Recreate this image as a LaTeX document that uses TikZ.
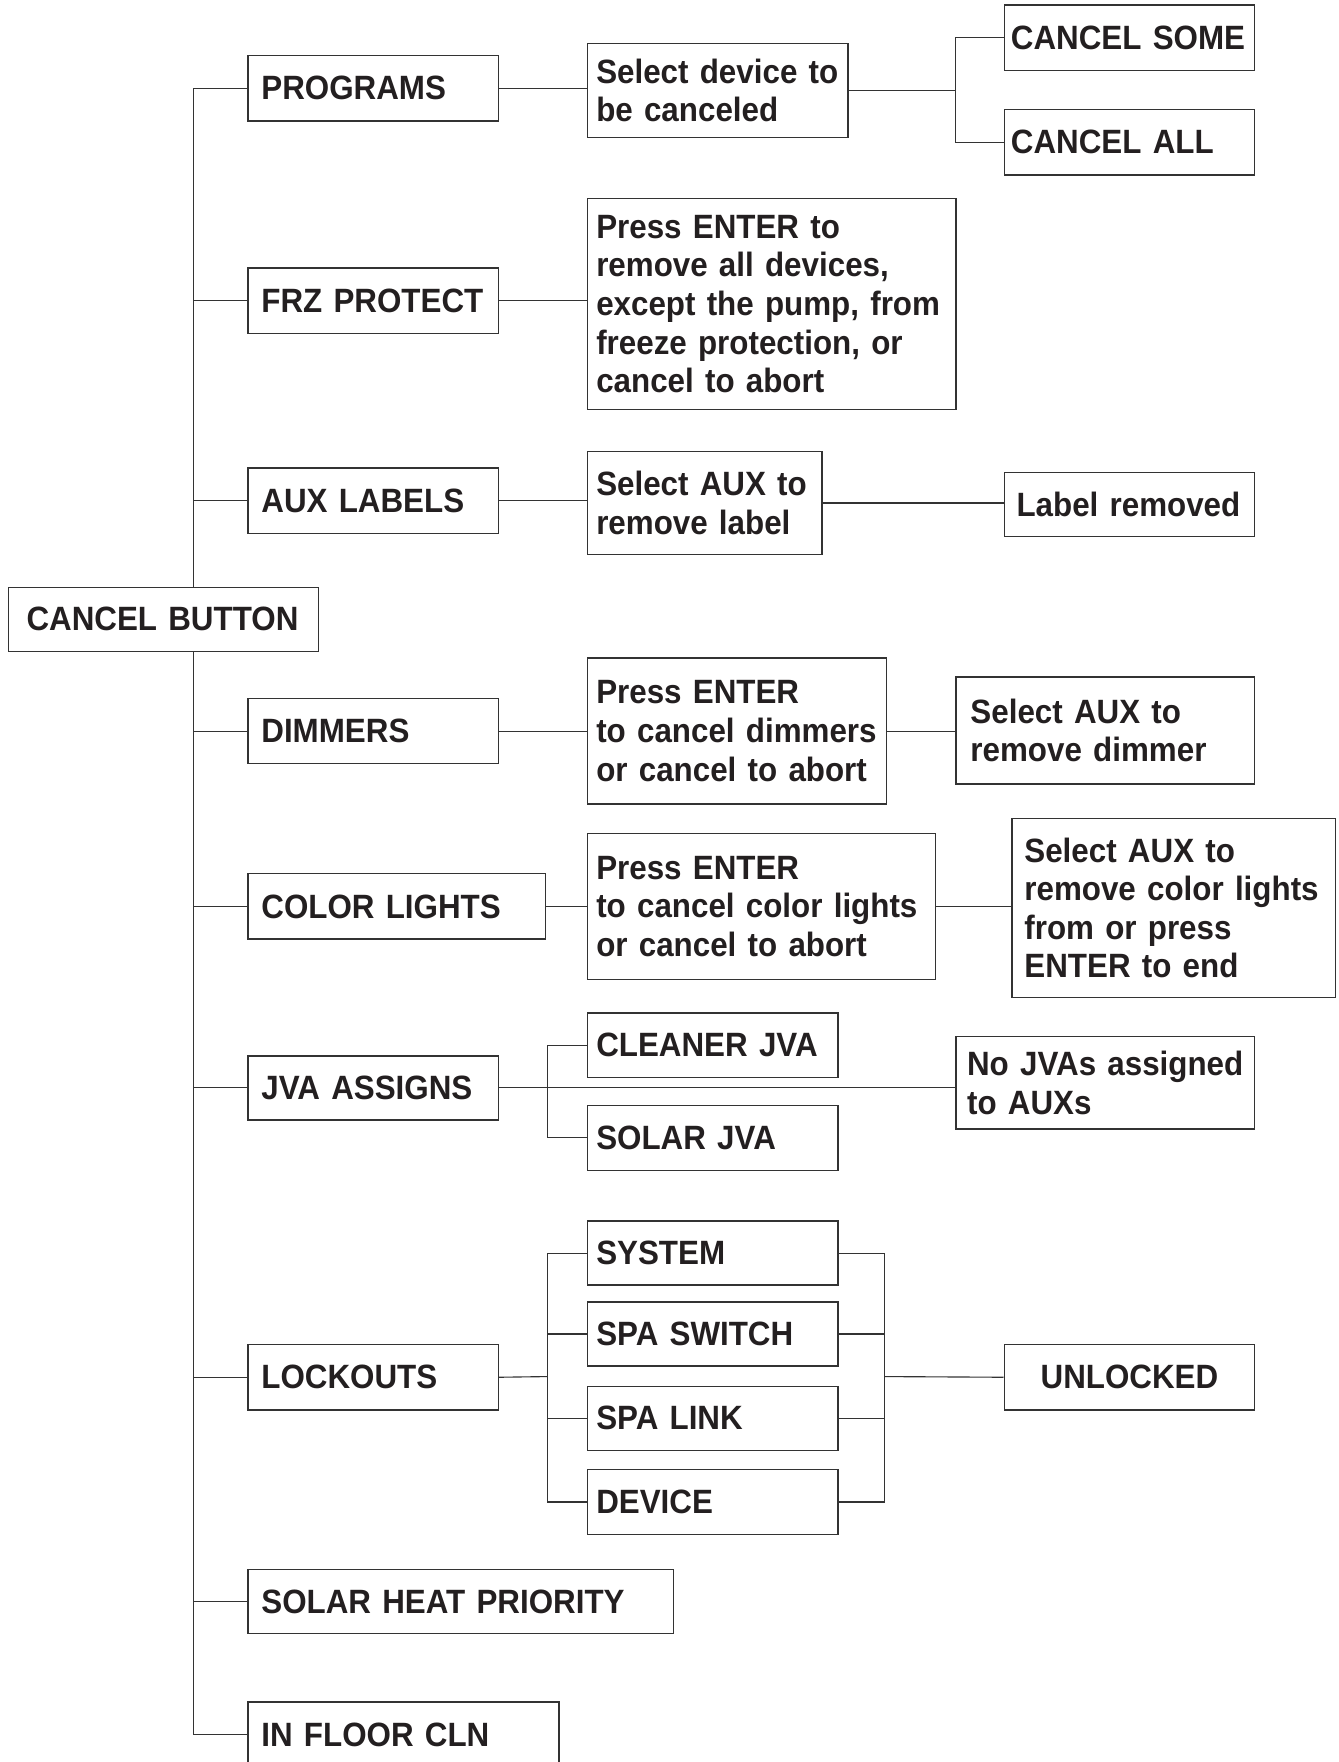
\documentclass[tikz,border=0pt]{standalone}
\usepackage{fontspec}
\setmainfont{Liberation Sans}[FakeStretch=0.93]
\usepackage{xcolor}
\usepackage{tikz}
\usetikzlibrary{positioning}
\definecolor{ink}{HTML}{231F20}
\definecolor{linec}{HTML}{333333}
\tikzset{
  item/.style={draw=linec, line width=1.2pt, anchor=north west, align=left,
    inner ysep=0pt, text=ink, font=\bfseries\fontsize{30}{34.3}\selectfont},
  link/.style={draw=linec, line width=1pt}
}

\begin{document}
\begin{tikzpicture}[x=1pt, y=-1pt]
\useasboundingbox (0,0) rectangle (1191,1568);
% left column
\node[item, text width=244pt, inner xsep=16pt, minimum height=57pt] (cb) at (7,522) {CANCEL BUTTON};
\node[item, text width=199pt, inner xsep=12pt, minimum height=58pt] (prog) at (220,49) {PROGRAMS};
\node[item, text width=199pt, inner xsep=12pt, minimum height=58pt] (frz) at (220,238) {FRZ PROTECT};
\node[item, text width=199pt, inner xsep=12pt, minimum height=58pt] (aux) at (220,416) {AUX LABELS};
\node[item, text width=199pt, inner xsep=12pt, minimum height=58pt] (dim) at (220,621) {DIMMERS};
\node[item, text width=241pt, inner xsep=12pt, minimum height=58pt] (col) at (220,777) {COLOR LIGHTS};
\node[item, text width=199pt, inner xsep=12pt, minimum height=57pt] (jva) at (220,939) {JVA ASSIGNS};
\node[item, text width=199pt, inner xsep=12pt, minimum height=58pt] (lock) at (220,1196) {LOCKOUTS};
\node[item, text width=355pt, inner xsep=12pt, minimum height=57pt] (shp) at (220,1396) {SOLAR HEAT PRIORITY};
\node[item, text width=253pt, inner xsep=12pt, minimum height=58pt] (ifc) at (220,1514) {IN FLOOR CLN};
% middle column
\node[item, text width=216pt, inner xsep=8pt, minimum height=84pt] (seldev) at (522,38) {Select device to\\be canceled};
\node[item, text width=312pt, inner xsep=8pt, minimum height=188pt] (frzmsg) at (522,176) {Press ENTER to\\remove all devices,\\except the pump, from\\freeze protection, or\\cancel to abort};
\node[item, text width=193pt, inner xsep=8pt, minimum height=92pt] (auxsel) at (522,401) {Select AUX to\\remove label};
\node[item, text width=250pt, inner xsep=8pt, minimum height=130pt] (dimmsg) at (522,585) {Press ENTER\\to cancel dimmers\\or cancel to abort};
\node[item, text width=294pt, inner xsep=8pt, minimum height=130pt] (colmsg) at (522,741) {Press ENTER\\to cancel color lights\\or cancel to abort};
\node[item, text width=207pt, inner xsep=8pt, minimum height=57pt] (cln) at (522,901) {CLEANER JVA};
\node[item, text width=207pt, inner xsep=8pt, minimum height=58pt] (sol) at (522,983) {SOLAR JVA};
\node[item, text width=207pt, inner xsep=8pt, minimum height=57pt] (sys) at (522,1086) {SYSTEM};
\node[item, text width=207pt, inner xsep=8pt, minimum height=57pt] (spsw) at (522,1158) {SPA SWITCH};
\node[item, text width=207pt, inner xsep=8pt, minimum height=57pt] (splk) at (522,1233) {SPA LINK};
\node[item, text width=207pt, inner xsep=8pt, minimum height=58pt] (dev) at (522,1307) {DEVICE};
% right column
\node[item, text width=211pt, inner xsep=6pt, minimum height=58pt] (csome) at (893,4) {CANCEL SOME};
\node[item, text width=211pt, inner xsep=6pt, minimum height=58pt] (call) at (893,97) {CANCEL ALL};
\node[item, text width=201pt, inner xsep=11pt, minimum height=57pt] (lblrem) at (893,420) {Label removed};
\node[item, text width=240pt, inner xsep=13pt, minimum height=95pt] (dimsel) at (850,602) {Select AUX to\\remove dimmer};
\node[item, text width=266pt, inner xsep=11pt, minimum height=159pt] (colsel) at (900,728) {Select AUX to\\remove color lights\\from or press\\ENTER to end};
\node[item, text width=246pt, inner xsep=10pt, minimum height=82pt] (nojva) at (850,922) {No JVAs assigned\\to AUXs};
\node[item, text width=207pt, inner xsep=8pt, minimum height=58pt, align=center] (unl) at (893,1196) {UNLOCKED};
% split points
\coordinate (tr) at (172,0);
\coordinate (sp) at (850,80);
\coordinate (jv) at (487,968);
\coordinate (lk) at (487,1225);
\coordinate (rk) at (787,1225);
% trunk
\draw[link] (tr |- cb.north) |- (prog.west);
\draw[link] (tr |- cb.north) |- (frz.west);
\draw[link] (tr |- cb.north) |- (aux.west);
\draw[link] (tr |- cb.south) |- (ifc.west);
\draw[link] (tr |- cb.south) |- (dim.west);
\draw[link] (tr |- cb.south) |- (col.west);
\draw[link] (tr |- cb.south) |- (jva.west);
\draw[link] (tr |- cb.south) |- (lock.west);
\draw[link] (tr |- cb.south) |- (shp.west);
% branches
\draw[link] (prog.east) -- (prog.east -| seldev.west);
\draw[link] (seldev.east) -- (seldev.east -| sp);
\draw[link] (csome.west) -| (sp) |- (call.west);
\draw[link] (frz.east) -- (frz.east -| frzmsg.west);
\draw[link] (aux.east) -- (aux.east -| auxsel.west);
\draw[link] (auxsel.east) -- (auxsel.east -| lblrem.west);
\draw[link] (dim.east) -- (dimmsg.west);
\draw[link] (dimmsg.east) -- (dimmsg.east -| dimsel.west);
\draw[link] (col.east) -- (col.east -| colmsg.west);
\draw[link] (colmsg.east) -- (colmsg.east -| colsel.west);
\draw[link] (jva.east) -- (jva.east -| nojva.west);
\draw[link] (cln.west) -| (jv) |- (sol.west);
\draw[link] (lock.east) -- (lk);
\draw[link] (sys.west) -| (lk) |- (dev.west);
\draw[link] (lk |- spsw.west) -- (spsw.west);
\draw[link] (lk |- splk.west) -- (splk.west);
\draw[link] (sys.east) -| (rk) |- (dev.east);
\draw[link] (spsw.east) -- (rk |- spsw.east);
\draw[link] (splk.east) -- (rk |- splk.east);
\draw[link] (rk) -- (unl.west);
\end{tikzpicture}
\end{document}
